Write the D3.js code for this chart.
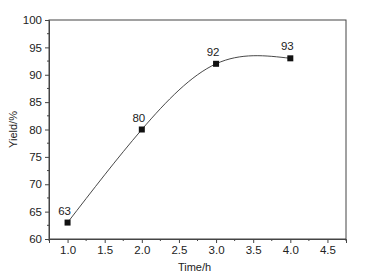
<!DOCTYPE html>
<html><head><meta charset="utf-8">
<script src="https://cdn.jsdelivr.net/npm/d3@7"></script>
<style>body{margin:0;background:#fff;}svg{display:block;font-family:"Liberation Sans",Arial,sans-serif;}</style>
</head><body>
<svg id="c" width="386" height="278"></svg>
<script>
const times = [1.0, 2.0, 3.0, 4.0];
const yields = [63, 80, 92, 93];
const labels = ["63", "80", "92", "93"];
const xTicks = [1.0, 1.5, 2.0, 2.5, 3.0, 3.5, 4.0, 4.5];
const yTicks = [60, 65, 70, 75, 80, 85, 90, 95, 100];

const svg = d3.select("#c");
const m = {l: 49, t: 20, r: 346, b: 239};
const x = d3.scaleLinear().domain([0.75, 4.75]).range([m.l, m.r]);
const y = d3.scaleLinear().domain([60, 100]).range([m.b, m.t]);
const axisCol = "#444";

// frame
svg.append("rect").attr("x", m.l).attr("y", m.t).attr("width", m.r - m.l).attr("height", m.b - m.t)
  .attr("fill", "none").attr("stroke", axisCol).attr("stroke-width", 1);

// x axis
const xMinor = d3.range(0.75, 4.76, 0.25).filter(v => Math.abs(v*2 - Math.round(v*2)) > 1e-6);
const gx = svg.append("g").attr("transform", `translate(0,${m.b})`)
  .call(d3.axisBottom(x).tickValues(xTicks).tickFormat(d3.format(".1f")).tickSize(4).tickPadding(3));
gx.select(".domain").attr("stroke", axisCol);
gx.selectAll(".tick line").attr("stroke", axisCol);
gx.selectAll("text").attr("font-size", 11.5).attr("fill", "#222").attr("font-family", "Liberation Sans, Arial, sans-serif");
svg.append("g").selectAll("line").data(xMinor).join("line")
  .attr("x1", d => x(d)).attr("x2", d => x(d)).attr("y1", m.b).attr("y2", m.b + 2).attr("stroke", axisCol);

// y axis
const yMinor = d3.range(62.5, 100, 5);
const gy = svg.append("g").attr("transform", `translate(${m.l},0)`)
  .call(d3.axisLeft(y).tickValues(yTicks).tickSize(4).tickPadding(3));
gy.select(".domain").attr("stroke", axisCol);
gy.selectAll(".tick line").attr("stroke", axisCol);
gy.selectAll("text").attr("font-size", 11.5).attr("fill", "#222").attr("font-family", "Liberation Sans, Arial, sans-serif");
svg.append("g").selectAll("line").data(yMinor).join("line")
  .attr("x1", m.l - 2).attr("x2", m.l).attr("y1", d => y(d)).attr("y2", d => y(d)).attr("stroke", axisCol);

// axis titles
svg.append("text").attr("x", (m.l + m.r) / 2 - 3).attr("y", 271).attr("text-anchor", "middle")
  .attr("font-size", 11).attr("fill", "#222").text("Time/h");
svg.append("text").attr("transform", `translate(17,${(m.t + m.b) / 2}) rotate(-90)`).attr("text-anchor", "middle")
  .attr("font-size", 11).attr("fill", "#222").text("Yield/%");

// curve
const pts = times.map((t, i) => [t, yields[i]]);
svg.append("path").datum(pts)
  .attr("d", d3.line().x(d => x(d[0])).y(d => y(d[1])).curve(d3.curveNatural))
  .attr("fill", "none").attr("stroke", "#333").attr("stroke-width", 0.9);

// markers
svg.append("g").selectAll("rect").data(pts).join("rect")
  .attr("x", d => x(d[0]) - 3).attr("y", d => y(d[1]) - 3).attr("width", 6).attr("height", 6).attr("fill", "#111");

// labels
svg.append("g").selectAll("text").data(pts).join("text")
  .attr("x", d => x(d[0]) - 3).attr("y", d => y(d[1]) - 8).attr("text-anchor", "middle")
  .attr("font-size", 11.5).attr("fill", "#222").text((d, i) => labels[i]);
</script>
</body></html>
